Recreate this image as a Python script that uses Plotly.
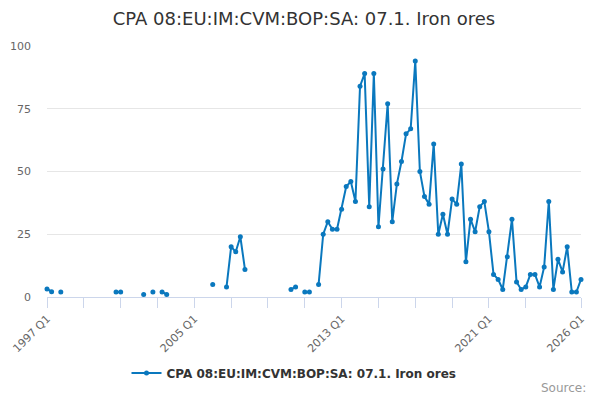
import plotly.graph_objects as go

# quarterly series 1997 Q1 .. 2026 Q1, None where no value
quarters = [f"{y} Q{q}" for y in range(1997, 2027) for q in range(1, 5)][:117]
values = [
    3.2, 2.1, None, 2, None, None, None, None, None, None,          # 1997 Q1 - 1999 Q2
    None, None, None, None, None, 2, 2, None, None, None,           # 1999 Q3 - 2001 Q4
    None, 1, None, 2, None, 2, 1, None, None, None,                 # 2002 Q1 - 2004 Q2
    None, None, None, None, None, None, 5, None, None, 4,            # 2004 Q3 - 2006 Q4
    20, 18, 24, 11, None, None, None, None, None, None,             # 2007 Q1 - 2009 Q2
    None, None, None, 3, 4, None, 2, 2, None, 5,                    # 2009 Q3 - 2011 Q4
    25, 30, 27, 27, 35, 44, 46, 38, 84, 89,                         # 2012 Q1 - 2014 Q2
    36, 89, 28, 51, 77, 30, 45, 54, 65, 67,                         # 2014 Q3 - 2016 Q4
    94, 50, 40, 37, 61, 25, 33, 25, 39, 37,                         # 2017 Q1 - 2019 Q2
    53, 14, 31, 26, 36, 38, 26, 9, 7, 3,                            # 2019 Q3 - 2021 Q4
    16, 31, 6, 3, 4, 9, 9, 4, 12, 38,                               # 2022 Q1 - 2024 Q2
    3, 15, 10, 20, 2, 2, 7,                                         # 2024 Q3 - 2026 Q1
]
labelled = ["1997 Q1", "2005 Q1", "2013 Q1", "2021 Q1", "2026 Q1"]
series_name = "CPA 08:EU:IM:CVM:BOP:SA: 07.1. Iron ores"

x = list(range(len(quarters)))
tick_idx = list(range(0, 105, 8)) + [len(quarters) - 1]
tick_txt = [quarters[i] if quarters[i] in labelled else "" for i in tick_idx]

# page body has an 8px margin, so the figure is a bit smaller than the window
W, H = 592, 392
blue = "#0a78be"
fig = go.Figure()
fig.add_trace(go.Scatter(
    x=x, y=values, name=series_name, mode="lines+markers",
    line=dict(color=blue, width=2), marker=dict(color=blue, size=5),
    connectgaps=False, cliponaxis=False,
    text=quarters, hovertemplate="%{text}: %{y}<extra></extra>"))

fig.update_layout(
    width=W, height=H,
    paper_bgcolor="white", plot_bgcolor="white",
    font=dict(family="DejaVu Sans", color="#666666", size=11),
    margin=dict(l=39, r=19, t=38, b=103, autoexpand=False),
    title=dict(text=series_name,
               font=dict(size=18, color="#333333"),
               x=0.5, xanchor="center", y=1 - 11 / H, yanchor="middle"),
    showlegend=True,
    legend=dict(orientation="h", xref="container", yref="container",
                x=0.5 - 10 / W, xanchor="center", y=27 / H, yanchor="middle",
                font=dict(size=12, color="#333333", weight="bold")),
    xaxis=dict(range=[0, len(quarters) - 1], tickmode="array",
               tickvals=tick_idx, ticktext=tick_txt, tickangle=-45,
               showgrid=False, zeroline=False, showline=True,
               linecolor="#ccd6eb", linewidth=1,
               ticks="outside", ticklen=10, tickcolor="#ccd6eb",
               tickfont=dict(size=11, color="#666666")),
    yaxis=dict(range=[0, 100], tickvals=[0, 25, 50, 75, 100],
               showgrid=True, gridcolor="#e6e6e6", zeroline=False,
               showline=False, ticks="", ticklabelstandoff=15,
               tickfont=dict(size=11, color="#666666")),
)
fig.add_annotation(text="Source:", xref="paper", yref="paper",
                   x=(588 - 47) / 534, y=(297 - 388) / 251,
                   xanchor="right", yanchor="middle", showarrow=False,
                   font=dict(size=12, color="#999999"))

fig.write_html("out.html")
